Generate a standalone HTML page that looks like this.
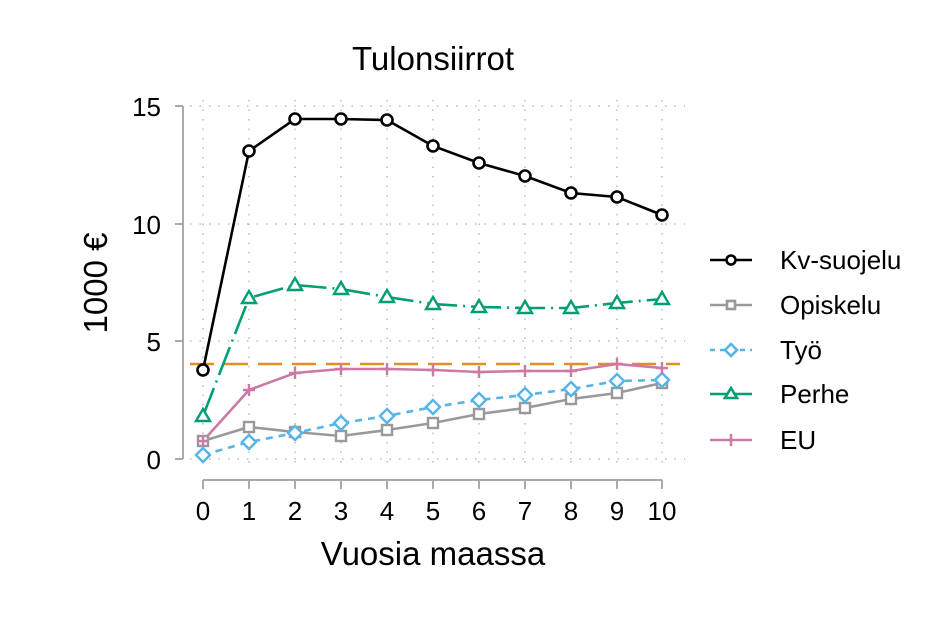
<!DOCTYPE html><html><head><style>body{margin:0;background:#fff}</style></head><body>
<svg width="937" height="637" xmlns="http://www.w3.org/2000/svg" font-family="Liberation Sans, sans-serif">
<rect width="937" height="637" fill="#fff"/>
<g stroke="#bbb" stroke-width="1.5" stroke-dasharray="1.5 8">
<line x1="190" y1="106" x2="685" y2="106"/><line x1="190" y1="224" x2="685" y2="224"/><line x1="190" y1="341" x2="685" y2="341"/><line x1="190" y1="459" x2="685" y2="459"/>
<line x1="203" y1="100" x2="203" y2="470"/><line x1="249" y1="100" x2="249" y2="470"/><line x1="295" y1="100" x2="295" y2="470"/><line x1="341" y1="100" x2="341" y2="470"/><line x1="387" y1="100" x2="387" y2="470"/><line x1="433" y1="100" x2="433" y2="470"/><line x1="479" y1="100" x2="479" y2="470"/><line x1="525" y1="100" x2="525" y2="470"/><line x1="571" y1="100" x2="571" y2="470"/><line x1="617" y1="100" x2="617" y2="470"/><line x1="662" y1="100" x2="662" y2="470"/>
</g>
<g stroke="#aaa" stroke-width="2" fill="none">
<line x1="183" y1="106" x2="183" y2="459"/>
<line x1="175" y1="106" x2="183" y2="106"/><line x1="175" y1="224" x2="183" y2="224"/><line x1="175" y1="341" x2="183" y2="341"/><line x1="175" y1="459" x2="183" y2="459"/>
<line x1="203" y1="480" x2="662" y2="480"/>
<path d="M203 480v9M249 480v9M295 480v9M341 480v9M387 480v9M433 480v9M479 480v9M525 480v9M571 480v9M617 480v9M662 480v9"/>
</g>
<g font-size="26" fill="#000" text-anchor="end">
<text x="161" y="116">15</text><text x="161" y="234">10</text><text x="161" y="351">5</text><text x="161" y="469">0</text>
</g>
<g font-size="26" fill="#000" text-anchor="middle">
<text x="203" y="520">0</text><text x="249" y="520">1</text><text x="295" y="520">2</text><text x="341" y="520">3</text><text x="387" y="520">4</text><text x="433" y="520">5</text><text x="479" y="520">6</text><text x="525" y="520">7</text><text x="571" y="520">8</text><text x="617" y="520">9</text><text x="662" y="520">10</text>
<text x="433" y="565" font-size="33">Vuosia maassa</text>
<text x="433" y="70" font-size="33">Tulonsiirrot</text>
<text transform="translate(107 283) rotate(-90)" font-size="33">1000 €</text>
</g>
<line x1="190" y1="364" x2="680" y2="364" stroke="#E09020" stroke-width="2.5" stroke-dasharray="24 10"/>
<g fill="none" stroke-width="2.6">
<polyline stroke="#999" points="203,441 249,427 295,432 341,436 387,430 433,423 479,414 525,408 571,399 617,393 662,383"/>
<polyline stroke="#56B4E9" stroke-dasharray="7 6" points="203,455 249,442 295,433 341,423 387,416 433,407 479,400 525,395 571,389 617,381 662,380"/>
<polyline stroke="#CC79A7" points="203,441 249,390 295,373 341,369 387,369 433,370 479,372 525,371 571,371 617,364 662,368"/>
<polyline stroke="#009E73" stroke-dasharray="30 6 2 6" points="203,416 249,298 295,285 341,289 387,297 433,304 479,307 525,308 571,308 617,303 662,299"/>
<polyline stroke="#000" points="203,370 249,151 295,119 341,119 387,120 433,146 479,163 525,176 571,193 617,197 662,215"/>
</g>
<g fill="#fff" stroke="#999" stroke-width="2.4">
<rect x="198" y="436" width="10" height="10"/><rect x="244" y="422" width="10" height="10"/><rect x="290" y="427" width="10" height="10"/><rect x="336" y="431" width="10" height="10"/><rect x="382" y="425" width="10" height="10"/><rect x="428" y="418" width="10" height="10"/><rect x="474" y="409" width="10" height="10"/><rect x="520" y="403" width="10" height="10"/><rect x="566" y="394" width="10" height="10"/><rect x="612" y="388" width="10" height="10"/><rect x="657" y="378" width="10" height="10"/>
</g>
<g fill="#fff" stroke="#56B4E9" stroke-width="2.4">
<path d="M203 448l7 7-7 7-7-7z"/><path d="M249 435l7 7-7 7-7-7z"/><path d="M295 426l7 7-7 7-7-7z"/><path d="M341 416l7 7-7 7-7-7z"/><path d="M387 409l7 7-7 7-7-7z"/><path d="M433 400l7 7-7 7-7-7z"/><path d="M479 393l7 7-7 7-7-7z"/><path d="M525 388l7 7-7 7-7-7z"/><path d="M571 382l7 7-7 7-7-7z"/><path d="M617 374l7 7-7 7-7-7z"/><path d="M662 373l7 7-7 7-7-7z"/>
</g>
<g stroke="#CC79A7" stroke-width="2.4" fill="none">
<path d="M197 441h12M203 435v12M243 390h12M249 384v12M289 373h12M295 367v12M335 369h12M341 363v12M381 369h12M387 363v12M427 370h12M433 364v12M473 372h12M479 366v12M519 371h12M525 365v12M565 371h12M571 365v12M611 364h12M617 358v12M656 368h12M662 362v12"/>
</g>
<g fill="#fff" stroke="#009E73" stroke-width="2.4">
<path d="M203 409l7 12h-14z"/><path d="M249 291l7 12h-14z"/><path d="M295 278l7 12h-14z"/><path d="M341 282l7 12h-14z"/><path d="M387 290l7 12h-14z"/><path d="M433 297l7 12h-14z"/><path d="M479 300l7 12h-14z"/><path d="M525 301l7 12h-14z"/><path d="M571 301l7 12h-14z"/><path d="M617 296l7 12h-14z"/><path d="M662 292l7 12h-14z"/>
</g>
<g fill="#fff" stroke="#000" stroke-width="2.6">
<circle cx="203" cy="370" r="5.5"/><circle cx="249" cy="151" r="5.5"/><circle cx="295" cy="119" r="5.5"/><circle cx="341" cy="119" r="5.5"/><circle cx="387" cy="120" r="5.5"/><circle cx="433" cy="146" r="5.5"/><circle cx="479" cy="163" r="5.5"/><circle cx="525" cy="176" r="5.5"/><circle cx="571" cy="193" r="5.5"/><circle cx="617" cy="197" r="5.5"/><circle cx="662" cy="215" r="5.5"/>
</g>
<g stroke-width="2.6" fill="#fff">
<line x1="710" y1="260" x2="752" y2="260" stroke="#000"/><circle cx="731" cy="260" r="4.5" stroke="#000"/>
<line x1="710" y1="305" x2="752" y2="305" stroke="#999"/><rect x="727" y="301" width="8" height="8" stroke="#999"/>
<line x1="710" y1="350" x2="752" y2="350" stroke="#56B4E9" stroke-dasharray="5 5"/><path d="M731 344l6 6-6 6-6-6z" stroke="#56B4E9"/>
<line x1="710" y1="394" x2="752" y2="394" stroke="#009E73"/><path d="M731 388l6 10h-12z" stroke="#009E73"/>
<line x1="710" y1="440" x2="752" y2="440" stroke="#CC79A7"/><path d="M731 434v12" stroke="#CC79A7" fill="none"/>
</g>
<g font-size="26" fill="#000">
<text x="780" y="269">Kv-suojelu</text><text x="780" y="314">Opiskelu</text><text x="780" y="359">Työ</text><text x="780" y="403">Perhe</text><text x="780" y="449">EU</text>
</g>
</svg>
</body></html>
